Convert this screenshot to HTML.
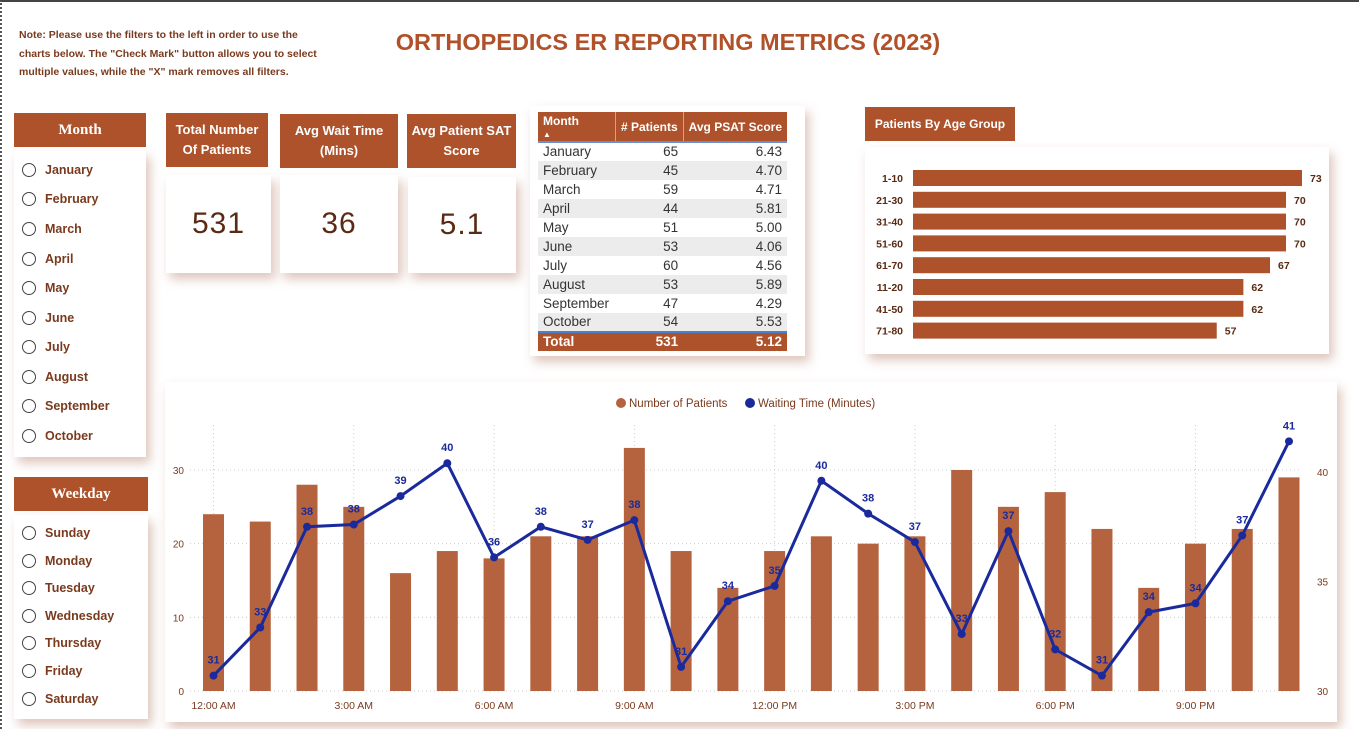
<!DOCTYPE html>
<html><head><meta charset="utf-8"><style>
*{box-sizing:border-box;margin:0;padding:0}
body{width:1359px;height:729px;position:relative;background:#fff;font-family:"Liberation Sans",sans-serif;overflow:hidden;color:#7a3a1e}
.abs{position:absolute}
.hdr{position:absolute;background:#ad522b;color:#fff;font-weight:bold;text-align:center;display:flex;align-items:center;justify-content:center;font-size:13px;line-height:20px}
.card{position:absolute;background:#fff;box-shadow:4px 6px 10px rgba(160,90,60,.35)}
.item{position:absolute;left:8px;font-size:12.5px;font-weight:bold;color:#7a3a1e;display:flex;align-items:center}
.item span.r{width:14px;height:14px;border:1.5px solid #444;border-radius:50%;display:inline-block;margin-right:9px}
.kv{font-size:30px;color:#5a2a14;display:flex;align-items:center;justify-content:center;letter-spacing:1px}
table{border-collapse:collapse;font-size:13.5px;color:#333}
td,th{padding:0 5px;height:19px;line-height:18px}
</style></head><body>
<div class="abs" style="left:0;top:0;width:1359px;height:729px;border-left:2px dotted #555;border-top:2px solid #444"></div>
<div class="abs" style="left:19px;top:26px;width:340px;font-size:10.5px;font-weight:bold;line-height:18.5px;color:#7a3a1e;white-space:nowrap">Note: Please use the filters to the left in order to use the<br>charts below. The "Check Mark" button allows you to select<br>multiple values, while the "X" mark removes all filters.</div>
<div class="abs" style="left:360px;top:29px;width:616px;text-align:center;font-size:23.5px;color:#b0512a;font-weight:bold">ORTHOPEDICS ER REPORTING METRICS (2023)</div>

<div class="hdr" style="left:14px;top:113px;width:132px;height:34px;font-family:'Liberation Serif',serif;font-size:15px">Month</div>
<div class="card" style="left:14px;top:151px;width:132px;height:306px">
<div class="item" style="top:12px"><span class="r"></span>January</div>
<div class="item" style="top:41px"><span class="r"></span>February</div>
<div class="item" style="top:71px"><span class="r"></span>March</div>
<div class="item" style="top:101px"><span class="r"></span>April</div>
<div class="item" style="top:130px"><span class="r"></span>May</div>
<div class="item" style="top:160px"><span class="r"></span>June</div>
<div class="item" style="top:189px"><span class="r"></span>July</div>
<div class="item" style="top:219px"><span class="r"></span>August</div>
<div class="item" style="top:248px"><span class="r"></span>September</div>
<div class="item" style="top:278px"><span class="r"></span>October</div>
</div>
<div class="hdr" style="left:14px;top:477px;width:134px;height:34px;font-family:'Liberation Serif',serif;font-size:15px">Weekday</div>
<div class="card" style="left:14px;top:515px;width:134px;height:204px">
<div class="item" style="top:11px"><span class="r"></span>Sunday</div>
<div class="item" style="top:39px"><span class="r"></span>Monday</div>
<div class="item" style="top:66px"><span class="r"></span>Tuesday</div>
<div class="item" style="top:94px"><span class="r"></span>Wednesday</div>
<div class="item" style="top:121px"><span class="r"></span>Thursday</div>
<div class="item" style="top:149px"><span class="r"></span>Friday</div>
<div class="item" style="top:177px"><span class="r"></span>Saturday</div>
</div>

<div class="hdr" style="left:166px;top:113px;width:102px;height:54px">Total Number<br>Of Patients</div>
<div class="card kv" style="left:166px;top:175px;width:105px;height:98px">531</div>
<div class="hdr" style="left:280px;top:114px;width:118px;height:54px">Avg Wait Time<br>(Mins)</div>
<div class="card kv" style="left:280px;top:175px;width:118px;height:98px">36</div>
<div class="hdr" style="left:407px;top:114px;width:109px;height:54px">Avg Patient SAT<br>Score</div>
<div class="card kv" style="left:408px;top:177px;width:108px;height:96px">5.1</div>

<div class="card" style="left:530px;top:106px;width:275px;height:250px">
<table style="position:absolute;left:8px;top:6px;width:249px">
<tr style="background:#ad522b;color:#fff;font-size:12px;font-weight:bold;border-bottom:2px solid #6a8fd0">
<th style="text-align:left;width:80px;height:25px;line-height:12px;border-right:1px solid #d9a080;vertical-align:top;padding-top:3px">Month<br><span style="font-size:8px">▲</span></th>
<th style="text-align:right;width:68px;height:25px;line-height:12px;border-right:1px solid #d9a080">#&nbsp;Patients</th>
<th style="text-align:right;height:25px;line-height:12px">Avg&nbsp;PSAT&nbsp;Score</th></tr>
<tbody id="tb"></tbody>
<tr style="background:#ad522b;color:#fff;font-weight:bold;border-top:2px solid #4a7fd0">
<td>Total</td><td style="text-align:right">531</td><td style="text-align:right">5.12</td></tr>
</table></div>

<div class="hdr" style="left:865px;top:107px;width:150px;height:34px;font-size:12px">Patients By Age Group</div>
<div class="card" style="left:865px;top:147px;width:464px;height:207px"></div>
<svg class="abs" id="ageSvg" style="left:0;top:0" width="1359" height="729"></svg>

<div class="card" style="left:165px;top:382px;width:1172px;height:340px"></div>
<svg class="abs" id="hrSvg" style="left:0;top:0" width="1359" height="729"></svg>

<script>
const months=["January","February","March","April","May","June","July","August","September","October"];
const monthPatients=[65,45,59,44,51,53,60,53,47,54];
const monthPsat=["6.43","4.70","4.71","5.81","5.00","4.06","4.56","5.89","4.29","5.53"];
const ageGroups=["1-10","21-30","31-40","51-60","61-70","11-20","41-50","71-80"];
const ageValues=[73,70,70,70,67,62,62,57];
const hourLabels=["12:00 AM","3:00 AM","6:00 AM","9:00 AM","12:00 PM","3:00 PM","6:00 PM","9:00 PM"];
const patientCounts=[24,23,28,25,16,19,18,21,21,33,19,14,19,21,20,21,30,25,27,22,14,20,22,29];
const waitTimes=[30.7,32.9,37.5,37.6,38.9,40.4,36.1,37.5,36.9,37.8,31.1,34.1,34.8,39.6,38.1,36.8,32.6,37.3,31.9,30.7,33.6,34.0,37.1,41.4];
const leftTicks=[0,10,20,30];
const rightTicks=[30,35,40];

const NS="http://www.w3.org/2000/svg";
function mk(p,tag,attrs,txt){const e=document.createElementNS(NS,tag);for(const k in attrs)e.setAttribute(k,attrs[k]);if(txt!==undefined)e.textContent=txt;p.appendChild(e);return e;}

const tb=document.getElementById('tb');
months.forEach((m,i)=>{const tr=document.createElement('tr');


tr.style.background=i%2?'#ececec':'#fff';
tr.innerHTML='<td>'+m+'</td><td style="text-align:right">'+monthPatients[i]+'</td><td style="text-align:right">'+monthPsat[i]+'</td>';
tb.appendChild(tr);});

const as=document.getElementById('ageSvg');
const ax0=913,aScale=389/73,ay0=170,aStep=21.8,aH=16;
ageGroups.forEach((g,i)=>{const y=ay0+i*aStep;
const t=mk(as,'text',{x:903,y:y+12,'text-anchor':'end','font-size':10.5,'font-weight':'bold',fill:'#5a2a14'},g);


const r=mk(as,'rect',{x:ax0,y:y,width:ageValues[i]*aScale,height:aH,fill:'#ad522b'});


const v=mk(as,'text',{x:ax0+ageValues[i]*aScale+8,y:y+12,'font-size':10.5,'font-weight':'bold',fill:'#5a2a14'},ageValues[i]);


});

const hs=document.getElementById('hrSvg');
const x0=213.5,xStep=(1289-213.5)/23,yBase=691,lScale=221/30,rScale=219/10;
const xp=i=>x0+i*xStep, yl=v=>yBase-v*lScale, yr=v=>yBase-(v-30)*rScale;
leftTicks.forEach(t=>{
const g=mk(hs,'line',{x1:190,x2:1300,y1:yl(t),y2:yl(t),stroke:'#ccc','stroke-dasharray':'1,3'});


const l=mk(hs,'text',{x:184,y:yl(t)+4,'text-anchor':'end','font-size':10,fill:'#7a3a1e'},t);

});
rightTicks.forEach(t=>{const l=mk(hs,'text',{x:1317,y:yr(t)+4,'font-size':10,fill:'#7a3a1e'},t);

});
hourLabels.forEach((h,k)=>{const x=xp(k*3);
const g=mk(hs,'line',{x1:x,x2:x,y1:425,y2:691,stroke:'#ccc','stroke-dasharray':'1,3'});


const l=mk(hs,'text',{x:x,y:709,'text-anchor':'middle','font-size':10.5,fill:'#7a3a1e'},h);

});
patientCounts.forEach((v,i)=>{const r=mk(hs,'rect',{x:xp(i)-10.5,y:yl(v),width:21,height:v*lScale,fill:'#b5633e'});

});
const pl=mk(hs,'polyline',{points:waitTimes.map((v,i)=>xp(i)+','+yr(v)).join(' '),fill:'none',stroke:'#1a2a9c','stroke-width':3});


waitTimes.forEach((v,i)=>{const c=mk(hs,'circle',{cx:xp(i),cy:yr(v),r:4,fill:'#1a2a9c'});


const t=mk(hs,'text',{x:xp(i),y:yr(v)-12,'text-anchor':'middle','font-size':11,'font-weight':'bold',fill:'#1a2a9c'},Math.round(v));

});
const lg=mk(hs,'g',{});


mk(lg,'circle',{cx:621,cy:403,r:5,fill:'#b5633e'});
mk(lg,'text',{x:629,y:407,'font-size':11.5,fill:'#7a3a1e'},'Number of Patients');
mk(lg,'circle',{cx:750,cy:403,r:5,fill:'#1a2a9c'});
mk(lg,'text',{x:758,y:407,'font-size':11.5,fill:'#7a3a1e'},'Waiting Time (Minutes)');
</script>
</body></html>
